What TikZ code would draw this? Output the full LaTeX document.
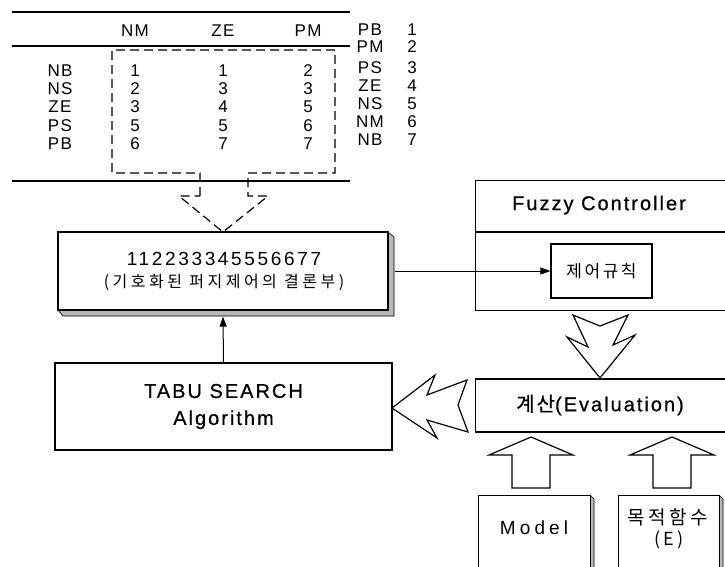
\documentclass[tikz,border=0pt]{standalone}
\usepackage{fontspec}
\setmainfont{Liberation Sans}
\newfontfamily\krfont{Noto Sans CJK KR}
\usetikzlibrary{arrows.meta,calc}

\begin{document}
\begin{tikzpicture}[x=1pt,y=-1pt,
every node/.style={inner sep=1pt},
box/.style={draw,line width=1.2pt,fill=white},
shade/.style={draw,line width=0.6pt,fill=gray!55},
blk/.style={draw,line width=1.2pt,fill=white,line join=miter},
tab/.style={font=\fontsize{17}{20}\selectfont\addfontfeatures{LetterSpace=8}},
big/.style={font=\fontsize{20}{24}\selectfont\addfontfeatures{LetterSpace=10,FakeBold=0.7}},
mid/.style={font=\fontsize{19}{22}\selectfont\addfontfeatures{LetterSpace=22}},
kor/.style={font=\krfont\fontsize{17}{20}\selectfont\addfontfeatures{LetterSpace=15}},
tip/.style={-{Triangle[length=10pt,width=7pt]},line width=1pt}
]
\useasboundingbox (0,0) rectangle (725,566);
\clip (0,0) rectangle (725,566);

% table of rules
\draw[line width=2.4pt] (12,12) -- (350,12);
\draw[line width=1.4pt] (12,46) -- (350,46);
\draw[line width=2.8pt] (12,181) -- (350,181);
\foreach \c/\x in {NM/135,ZE/223,PM/308}
    \node[tab] (h-\c) at (\x,31) {\c};
\foreach \r/\y/\a/\b/\c in {NB/71/1/1/2, NS/89/2/3/3, ZE/107/3/4/5,
                            PS/126/5/5/6, PB/144/6/7/7}{
    \node[tab] (r-\r) at (60,\y) {\r};
    \node[tab] (c-\r-1) at (135,\y) {\a};
    \node[tab] (c-\r-2) at (223,\y) {\b};
    \node[tab] (c-\r-3) at (308,\y) {\c};
}
\foreach \l/\n/\y in {PB/1/30, PM/2/47, PS/3/68, ZE/4/86,
                      NS/5/104, NM/6/122, NB/7/140}{
    \node[tab] (s-\l) at (370,\y) {\l};
    \node[tab] (n-\l) at (412,\y) {\n};
}
\draw[line width=1.2pt,dash pattern=on 9pt off 5pt]
    (200,196) -- (200,173) -- (112,173) -- (112,50) -- (335,50) -- (335,173)
    -- (248,173) -- (248,196) -- (268,196) -- (223,232) -- (179,196) -- cycle;

% coded rule base
\draw[shade] (58,310) -- (63,316) -- (394,316) -- (394,237) -- (388,232) -- (388,310) -- cycle;
\node[box,minimum width=330,minimum height=78] (code) at (223,271) {};
\node[font=\fontsize{19}{22}\selectfont\addfontfeatures{LetterSpace=14}] (codenum) at (224,259) {112233345556677};
\node[kor,font=\krfont\fontsize{16}{19}\selectfont\addfontfeatures{LetterSpace=22}] (codekr) at (224,282) {(기호화된 퍼지제어의 결론부)};

% fuzzy controller
\node[box,anchor=north west,minimum width=285,minimum height=130] (fuzzy) at (475,180) {};
\draw[line width=1.2pt] (fuzzy.west |- 0,232) -- (fuzzy.east |- 0,232);
\node[big] (fuzzytitle) at (599,205) {Fuzzy Controller};
\node[box,kor,minimum width=101,minimum height=54] (rule) at (601.5,271) {제어규칙};
\draw[tip] ($(code.east)+(6,0)$) -- (rule.west);

% evaluation
\node[box,anchor=west,minimum width=285,minimum height=53] (eval) at (475,405.5) {};
\node[big] (evaltext) at (600,405) {{\krfont\addfontfeatures{LetterSpace=10,FakeBold=0.7}계산}(Evaluation)};
\draw[line width=1.2pt,line join=miter]
    (573,315) -- (588,347) -- (567,337) -- (600,378) -- (635,335)
    -- (613,345) -- (628,315) -- (600,326) -- cycle;

% tabu search
\node[box,big,align=center,minimum width=337,minimum height=87] (tabu) at (223.5,406.5)
    {TABU SEARCH\\[3pt]Algorithm};
\draw[line width=1.2pt,line join=miter]
    (392,408) -- (435,375) -- (427,395) -- (467,380) -- (458,405)
    -- (468,432) -- (427,420) -- (437,438) -- cycle;
\draw[tip] (tabu.north) -- ($(code.south)+(0,6)$);

% model and objective function
\draw[shade] (590,495) -- (594,499) -- (594,580) -- (590,580) -- cycle;
\node[box,anchor=north west,minimum width=112,minimum height=90] (model) at (478,495) {};
\node[mid] (modeltext) at (534,528) {Model};
\draw[shade] (719,495) -- (723,499) -- (723,580) -- (719,580) -- cycle;
\node[box,anchor=north west,minimum width=101,minimum height=90] (goal) at (618,495) {};
\node[kor,font=\krfont\fontsize{19}{22}\selectfont\addfontfeatures{LetterSpace=18}] (goaltext) at (668,517) {목적함수};
\node[kor,font=\krfont\fontsize{18}{21}\selectfont\addfontfeatures{LetterSpace=15}] (goale) at (669,540) {(E)};
\draw[blk] (512,488) -- (512,455) -- (489,455) -- (531,437) -- (573,455)
    -- (550,455) -- (550,488) -- cycle;
\draw[blk] (653,488) -- (653,455) -- (630,455) -- (672,437) -- (714,455)
    -- (691,455) -- (691,488) -- cycle;
\end{tikzpicture}
\end{document}
